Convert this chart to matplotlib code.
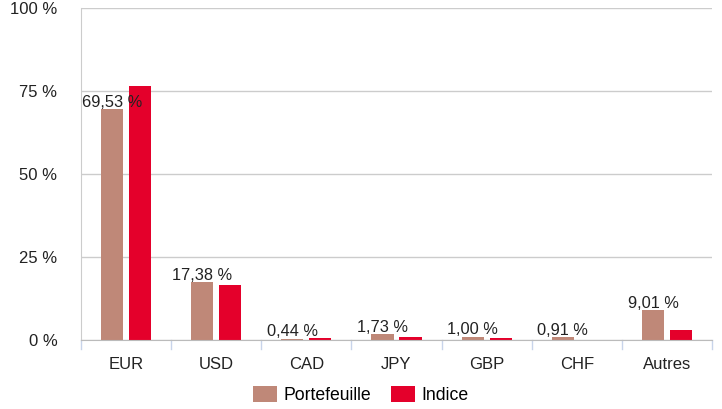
import numpy as np
import matplotlib.pyplot as plt

plt.rcParams['font.family'] = ['Liberation Sans', 'DejaVu Sans']

devises = ["EUR", "USD", "CAD", "JPY", "GBP", "CHF", "Autres"]
portefeuille = [69.53, 17.38, 0.44, 1.73, 1.00, 0.91, 9.01]
indice = [76.5, 16.6, 0.5, 1.0, 0.6, 0.1, 3.0]
etiquettes = ["69,53 %", "17,38 %", "0,44 %", "1,73 %", "1,00 %", "0,91 %", "9,01 %"]

col_pf = "#bf8878"
col_ind = "#e4002b"

fig = plt.figure(figsize=(7.22, 4.09), dpi=100)
ax = fig.add_axes([81/722, 1 - 340/409, (712-81)/722, (340-8)/409])

x = np.arange(len(devises))
w = 0.245
ax.bar(x - 0.155, portefeuille, w, color=col_pf, label="Portefeuille", zorder=3)
ax.bar(x + 0.155, indice, w, color=col_ind, label="Indice", zorder=3)

for xi, v, t in zip(x, portefeuille, etiquettes):
    ax.text(xi - 0.155, v - 0.2, t, ha="center", va="bottom", fontsize=11.8,
            color="#222222", zorder=4)

ax.set_xlim(-0.5, len(devises) - 0.5)
ax.set_ylim(0, 100)
ax.set_yticks([0, 25, 50, 75, 100])
ax.set_yticklabels(["0 %", "25 %", "50 %", "75 %", "100 %"])
ax.yaxis.grid(True, color="#cccccc", linewidth=1, zorder=0)
ax.tick_params(axis="y", length=0, pad=17, labelsize=12, labelcolor="#222222")

ax.set_xticks(x)
ax.set_xticklabels(devises)
ax.tick_params(axis="x", length=0, pad=12, labelsize=12, labelcolor="#222222")
for b in np.arange(-0.5, len(devises), 1):
    ax.plot([b, b], [0, -0.028], transform=ax.get_xaxis_transform(),
            color="#c8d4ea", linewidth=1, clip_on=False)

for s in ["top", "right"]:
    ax.spines[s].set_visible(False)
ax.spines["left"].set_color("#cccccc")
ax.spines["bottom"].set_color("#bbbbbb")
ax.spines["bottom"].set_zorder(5)

h, l = ax.get_legend_handles_labels()
fig.legend(h, l, loc="center", bbox_to_anchor=(0.5, 0.034), ncol=2, frameon=False,
           fontsize=12.7, handlelength=1.36, handleheight=1.02, columnspacing=1.13,
           handletextpad=0.36, borderpad=0, borderaxespad=0)

fig.savefig("out.png", dpi=100)
